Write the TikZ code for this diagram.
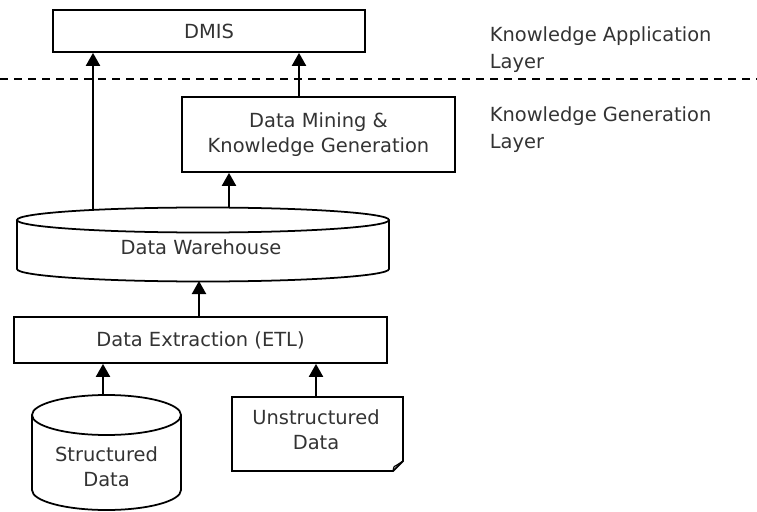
\documentclass[tikz,border=0pt]{standalone}
\usepackage{fontspec}
\setmainfont{DejaVu Sans}
\usetikzlibrary{arrows.meta}
\definecolor{txtgray}{HTML}{333333}
\begin{document}
\begin{tikzpicture}[x=0.03cm,y=-0.03cm,line width=1.5pt,
  box/.style={draw,line width=1.5pt,align=center,font=\fontsize{16.6}{21.5}\selectfont,text=txtgray},
  lbl/.style={align=center,font=\fontsize{16.6}{21.5}\selectfont,text=txtgray},
  layer/.style={align=left,anchor=west,font=\fontsize{16.6}{23}\selectfont,text=txtgray},
  a/.style={-{Triangle[length=3.9mm,width=4.2mm]},line width=1.8pt}]
\useasboundingbox (0,0) rectangle (757,512);
% layers
\draw[line width=1.2pt,dash pattern=on 0.24cm off 0.18cm] (0,79) -- (757,79);
\node[layer] (app) at (485,50) {Knowledge Application\\Layer};
\node[layer] (gen) at (485,129.5) {Knowledge Generation\\Layer};
% boxes
\node[box,minimum width=9.36cm,minimum height=1.26cm] (dmis) at (209,31) {DMIS};
\node[box,minimum width=8.19cm,minimum height=2.25cm] (kg) at (318.5,134.5) {Data Mining \&\\Knowledge Generation};
\node[box,minimum width=11.19cm,minimum height=1.38cm] (etl) at (200.5,340) {Data Extraction (ETL)};
% data warehouse
\draw (203,220) ellipse [x radius=5.58cm,y radius=0.375cm];
\draw (17,220) -- (17,269) arc[start angle=180,end angle=360,x radius=5.58cm,y radius=0.375cm] -- (389,220);
\node[lbl] (dw) at (201,247) {Data Warehouse};
\coordinate (dw1) at (93,211);
\coordinate (dw2) at (229,208);
\coordinate (dwbot) at (199,281);
% structured data
\draw (106.5,415) ellipse [x radius=2.235cm,y radius=0.6cm];
\draw (32,415) -- (32,490) arc[start angle=180,end angle=360,x radius=2.235cm,y radius=0.6cm] -- (181,415);
\node[lbl] (sd) at (106.5,467) {Structured\\Data};
\coordinate (sdtop) at (103,395);
% unstructured data
\draw (232,397) -- (403,397) -- (403,461) -- (393,471) -- (232,471) -- cycle;
\draw[line width=1pt] (393,471) .. controls (394,466) .. (397,465) -- (403,461);
\node[lbl] (ud) at (316,430) {Unstructured\\Data};
\coordinate (udtop) at (316,397);
% arrows
\draw[a] (dw1) -- (dw1 |- dmis.south);
\draw[a] (dw2) -- (dw2 |- kg.south);
\draw[a] ([xshift=-5.85mm]kg.north) -- ([xshift=-5.85mm]kg.north |- dmis.south);
\draw[a] (etl.north -| dwbot) -- (dwbot);
\draw[a] (sdtop) -- (sdtop |- etl.south);
\draw[a] (udtop) -- (udtop |- etl.south);
\end{tikzpicture}
\end{document}
